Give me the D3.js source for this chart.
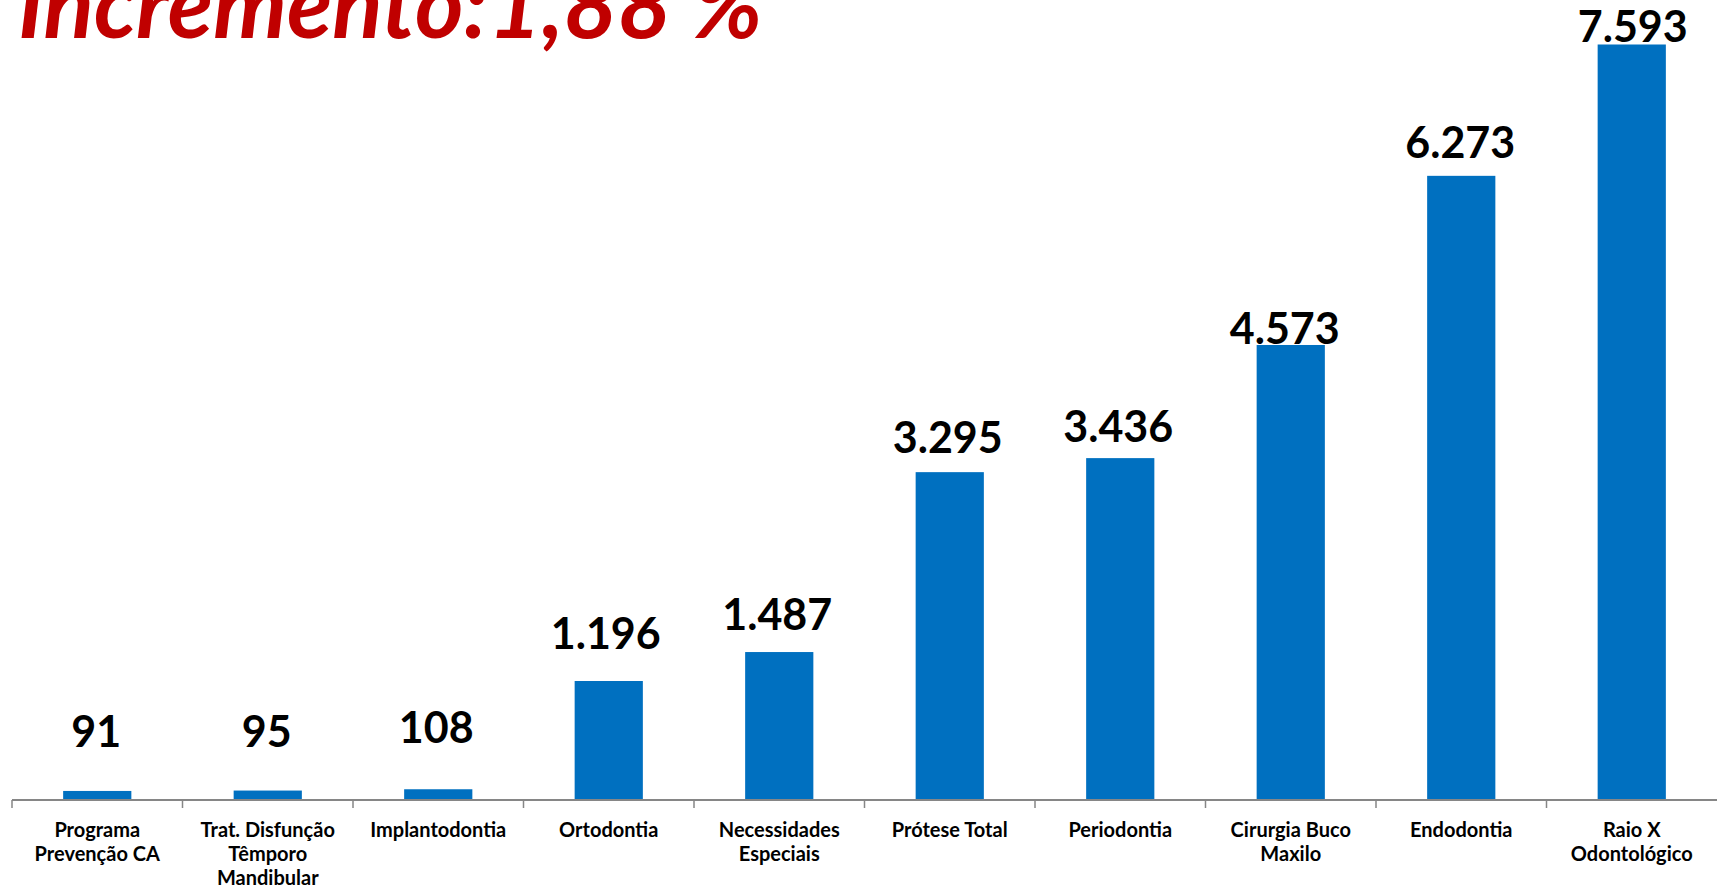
<!DOCTYPE html>
<html>
<head>
<meta charset="utf-8">
<script src="https://cdn.jsdelivr.net/npm/d3@7"></script>
<style>
  body { margin: 0; background: #fff; }
  svg { display: block; }
</style>
</head>
<body>
<div id="chart"></div>
<script>
var width = 1717, height = 890

// data
var categories = ["Programa\nPrevenção CA", "Trat. Disfunção\nTêmporo\nMandibular", "Implantodontia",
  "Ortodontia", "Necessidades\nEspeciais", "Prótese Total", "Periodontia",
  "Cirurgia Buco\nMaxilo", "Endodontia", "Raio X\nOdontológico"]
var values = [91, 95, 108, 1196, 1487, 3295, 3436, 4573, 6273, 7593]
var title = "Incremento:1,88 %"

// hand placed label nudges (px above bar top, px sideways), as in the original
var labelLift = [44, 44, 46, 32, 22, 19, 16, 1, 18, 3]
var labelShift = [-1, -1, -2, -3, -2, -2, -2, -6, -1, 1]

var baseY = 800, left = 12, right = 1717
var barColor = "#0070C0", axisColor = "#868686"

var ptBR = d3.formatLocale({decimal: ",", thousands: ".", grouping: [3], currency: ["R$", ""]})
var fmt = ptBR.format(",d")

var svg = d3.select("#chart")
    .append("svg")
    .attr("width", width)
    .attr("height", height)

var x = d3.scaleBand()
    .domain(categories)
    .range([left, right])
    .paddingInner(0.6)
    .paddingOuter(0.3)

var y = d3.scaleLinear()
    .domain([0, 8000])
    .range([baseY, 4])

var step = x.step()

// bars
svg.append("g").selectAll("rect")
    .data(values)
    .enter().append("rect")
    .attr("x", function(d, i){ return x(categories[i]) })
    .attr("y", function(d){ return y(d) })
    .attr("width", x.bandwidth())
    .attr("height", function(d){ return baseY - y(d) })
    .style("fill", barColor)

// axis line + ticks at category boundaries
var axisG = svg.append("g")
axisG.append("line")
    .attr("x1", left).attr("x2", right)
    .attr("y1", baseY).attr("y2", baseY)
    .style("stroke", axisColor).style("stroke-width", 2)
axisG.selectAll(".tick")
    .data(categories)
    .enter().append("line")
    .attr("x1", function(d){ return x(d) - step*0.3 })
    .attr("x2", function(d){ return x(d) - step*0.3 })
    .attr("y1", baseY).attr("y2", baseY + 8)
    .style("stroke", axisColor).style("stroke-width", 1.5)

// category labels
var catG = svg.append("g").selectAll("text")
    .data(categories)
    .enter().append("text")
    .attr("text-anchor", "middle")
    .style("font-family", "Lato, 'Open Sans', sans-serif")
    .style("font-weight", "bold")
    .style("font-size", "20px")
    .style("fill", "#000")
catG.selectAll("tspan")
    .data(function(d){ return d.split("\n").map(function(t){ return {t: t, c: d} }) })
    .enter().append("tspan")
    .attr("x", function(d){ return x(d.c) + x.bandwidth()/2 })
    .attr("y", function(d, i){ return 837 + i*24 })
    .text(function(d){ return d.t })

// value labels
svg.append("g").selectAll("text")
    .data(values)
    .enter().append("text")
    .attr("x", function(d, i){ return x(categories[i]) + x.bandwidth()/2 + labelShift[i] })
    .attr("y", function(d, i){ return y(d) - labelLift[i] })
    .attr("text-anchor", "middle")
    .style("font-family", "Lato, 'Open Sans', sans-serif")
    .style("font-weight", "bold")
    .style("font-size", "43px")
    .style("fill", "#000")
    .text(function(d){ return fmt(d) })

// title, cut off by the top edge as in the source
svg.append("text")
    .attr("x", 18)
    .attr("y", 38)
    .style("font-family", "Lato, 'Open Sans', sans-serif")
    .style("font-weight", "bold")
    .style("font-style", "italic")
    .style("font-size", "93px")
    .style("fill", "#C00000")
    .text(title)
</script>
</body>
</html>
